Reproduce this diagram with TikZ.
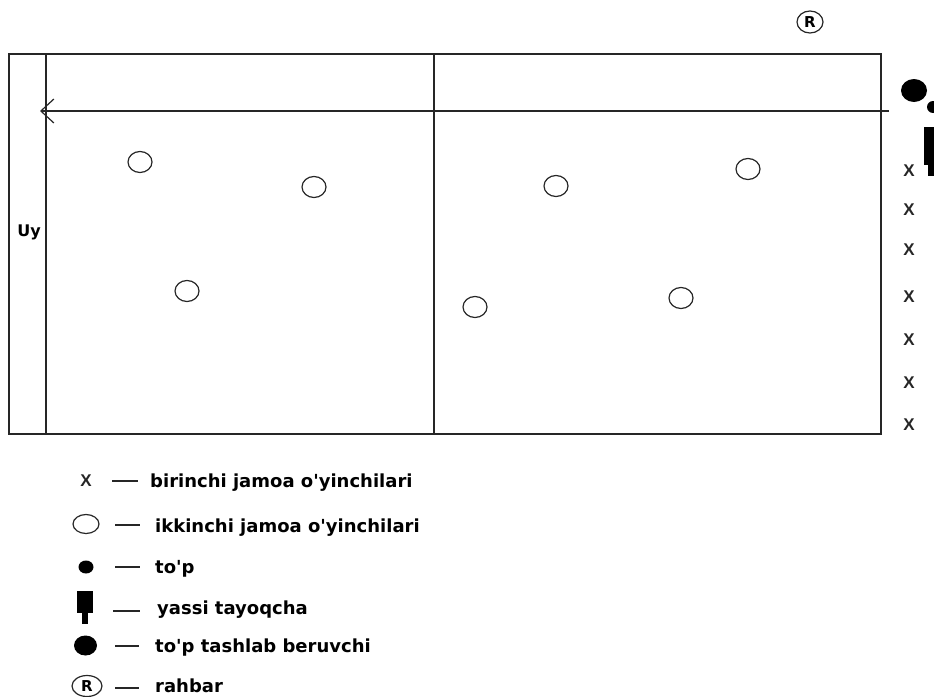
\documentclass[tikz,border=0pt]{standalone}
\usepackage{fontspec}
\setmainfont{DejaVu Sans}[Ligatures=TeXOff]
\newfontfamily\lib{Liberation Sans}
\usetikzlibrary{arrows.meta}
\tikzset{
  court/.style={draw=black!85, line width=1.5pt},
  player/.style={draw=black!85, line width=1.2pt},
  xmark/.style={font=\lib\bfseries\fontsize{17}{17}\selectfont, inner sep=0pt, text=black!85},
  legtext/.style={anchor=base west, inner sep=0pt, font=\fontsize{18}{20}\selectfont\bfseries, text=black},
  legdash/.style={draw=black!85, line width=1.4pt},
  rmark/.style={font=\fontsize{15}{15}\selectfont\bfseries, inner sep=0pt},
}
\begin{document}
\begin{tikzpicture}[x=1pt,y=-1pt]
\useasboundingbox (0,0) rectangle (934,696);
\clip (0,0) rectangle (934,696);
% court
\draw[court] (9,54) rectangle (881,434);
\draw[court] (46,54) -- (46,434);
\draw[court] (434,54) -- (434,434);
\node[font=\fontsize{16}{16}\selectfont\bfseries, inner sep=0pt] (uy) at (29,232) {Uy};
% arrow
\coordinate (arrS) at (889,111);
\coordinate (arrE) at (40,111);
\draw[draw=black!85, line width=1.3pt, -{Straight Barb[length=13pt,width=24pt,line width=1.2pt]}] (arrS) -- (arrE);
% second team circles
\foreach \n/\x/\y in {c1/140/162, c2/314/187, c3/187/291, c4/556/186, c5/748/169, c6/475/307, c7/681/298}
  \draw[player] (\x,\y) ellipse [x radius=12, y radius=10.5];
% first team x marks
\foreach \n/\y in {1/171, 2/210, 3/250, 4/297, 5/340, 6/383, 7/425}
  \node[xmark] (x\n) at (909,\y) {X};
% thrower, ball, bat at right
\fill[black] (914,90.5) ellipse [x radius=13, y radius=11.5];
\fill[black] (933,107) circle [radius=6];
\fill[black] (924,127) rectangle (940,165);
\fill[black] (928,165) rectangle (934,176);
% leader
\draw[black!85, line width=1.2pt] (810,22) ellipse [x radius=13, y radius=11];
\node[rmark] (rtop) at (810,22) {R};
% legend
\node[xmark] (lx) at (86,481) {X};
\draw[legdash] (112,481) -- (138,481);
\node[legtext] (t1) at (150,487) {birinchi jamoa o'yinchilari};

\draw[player] (86,524) ellipse [x radius=13, y radius=9.5];
\draw[legdash] (115,525) -- (140,525);
\node[legtext] (t2) at (155,532) {ikkinchi jamoa o'yinchilari};

\fill[black] (86,567) ellipse [x radius=7.5, y radius=6.5];
\draw[legdash] (115,567) -- (140,567);
\node[legtext] (t3) at (155,573) {to'p};

\fill[black] (77,591) rectangle (93,613);
\fill[black] (82,613) rectangle (88,624);
\draw[legdash] (113,611) -- (140,611);
\node[legtext] (t4) at (157,614) {yassi tayoqcha};

\fill[black] (85.5,645.5) ellipse [x radius=11.5, y radius=10];
\draw[legdash] (115,646) -- (139,646);
\node[legtext] (t5) at (155,652) {to'p tashlab beruvchi};

\draw[black!85, line width=1.2pt] (87,686) ellipse [x radius=15, y radius=10.5];
\node[rmark] (rleg) at (87,686) {R};
\draw[legdash] (115,688) -- (139,688);
\node[legtext] (t6) at (155,692) {rahbar};
\end{tikzpicture}
\end{document}
